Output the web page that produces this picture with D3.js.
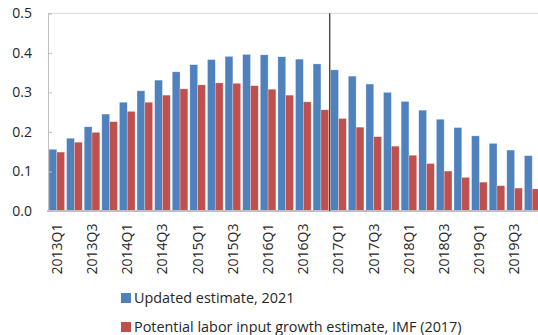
<!DOCTYPE html>
<html>
<head>
<meta charset="utf-8">
<script src="https://cdn.jsdelivr.net/npm/d3@7"></script>
<style>
  html, body { margin: 0; padding: 0; background: #fff; }
  svg { display: block; font-family: "Open Sans", "Noto Sans", sans-serif; }
</style>
</head>
<body>
<svg id="chart" width="538" height="335"></svg>
<script>
// Quarterly categories
const quarters = [
  "2013Q1","2013Q2","2013Q3","2013Q4",
  "2014Q1","2014Q2","2014Q3","2014Q4",
  "2015Q1","2015Q2","2015Q3","2015Q4",
  "2016Q1","2016Q2","2016Q3","2016Q4",
  "2017Q1","2017Q2","2017Q3","2017Q4",
  "2018Q1","2018Q2","2018Q3","2018Q4",
  "2019Q1","2019Q2","2019Q3","2019Q4"
];

// Updated estimate, 2021
const updatedEstimate = [
  0.156, 0.184, 0.213, 0.245, 0.275, 0.304, 0.331, 0.352,
  0.370, 0.383, 0.391, 0.396, 0.395, 0.390, 0.384, 0.372,
  0.357, 0.341, 0.321, 0.300, 0.277, 0.255, 0.232, 0.211,
  0.190, 0.171, 0.154, 0.140
];

// Potential labor input growth estimate, IMF (2017)
const imfEstimate = [
  0.149, 0.174, 0.199, 0.226, 0.252, 0.275, 0.293, 0.309,
  0.319, 0.324, 0.323, 0.317, 0.308, 0.293, 0.276, 0.256,
  0.234, 0.212, 0.188, 0.164, 0.141, 0.120, 0.101, 0.085,
  0.073, 0.064, 0.058, 0.056
];

const seriesNames = ["Updated estimate, 2021", "Potential labor input growth estimate, IMF (2017)"];
const seriesColors = ["#4F81BD", "#C0504D"];
const yTicks = [0.0, 0.1, 0.2, 0.3, 0.4, 0.5];
const xTickLabels = quarters.filter((q, i) => i % 2 === 0);
const splitQuarter = "2017Q1";

const svg = d3.select("#chart");
const margin = { left: 48, top: 13.3, bottom: 211 };
const plotRight = 541;

const x = d3.scaleBand().domain(quarters).range([margin.left, plotRight])
  .paddingInner(0.114).paddingOuter(0.057);
const keys = [0, 1];
const xSub = d3.scaleBand().domain(keys).range([0, x.bandwidth()]);
const y = d3.scaleLinear().domain([0, 0.5]).range([margin.bottom, margin.top]);

// top border line at 0.5
svg.append("line")
  .attr("x1", margin.left).attr("x2", 538)
  .attr("y1", y(0.5)).attr("y2", y(0.5))
  .attr("stroke", "#d9d9d9").attr("stroke-width", 1);

// bars
const rows = quarters.map((q, i) => ({ q, v: [updatedEstimate[i], imfEstimate[i]] }));
const groups = svg.append("g").selectAll("g").data(rows).join("g")
  .attr("transform", d => `translate(${x(d.q)},0)`);
groups.selectAll("rect").data(d => keys.map(k => ({ k, v: d.v[k] }))).join("rect")
  .attr("x", d => xSub(d.k))
  .attr("y", d => y(d.v))
  .attr("width", xSub.bandwidth())
  .attr("height", d => y(0) - y(d.v))
  .attr("fill", d => seriesColors[d.k])
  .attr("stroke", "rgba(255,255,255,0.45)")
  .attr("stroke-width", 0.6);

// y axis
const yAxis = d3.axisRight(y).tickValues(yTicks).tickSize(4).tickFormat("");
const yg = svg.append("g").attr("transform", `translate(${margin.left},0)`).call(yAxis);
yg.select(".domain").attr("stroke", "#bfbfbf").attr("stroke-width", 1);
yg.selectAll(".tick line").attr("stroke", "#bfbfbf");

svg.append("g").selectAll("text").data(yTicks).join("text")
  .attr("x", 32).attr("y", d => y(d))
  .attr("dy", "0.35em")
  .attr("text-anchor", "end")
  .attr("font-size", 14)
  .attr("fill", "#262626")
  .text(d => d3.format(".1f")(d));

// x axis
const xAxis = d3.axisBottom(x).tickValues(xTickLabels).tickSize(0);
const xg = svg.append("g").attr("transform", `translate(0,${margin.bottom})`).call(xAxis);
xg.select(".domain").remove();
xg.append("line").attr("x1", margin.left - 1).attr("x2", 538)
  .attr("y1", 0).attr("y2", 0)
  .attr("stroke", "#bfbfbf").attr("stroke-width", 2.2);
xg.selectAll(".tick text")
  .attr("font-family", "\"Open Sans\", \"Noto Sans\", sans-serif")
  .attr("font-size", 14)
  .attr("fill", "#262626")
  .attr("transform", "rotate(-90)")
  .attr("text-anchor", "end")
  .attr("x", -12.5)
  .attr("y", 0)
  .attr("dy", "0.35em");

// divider between 2016Q4 and 2017Q1
const splitX = x(splitQuarter) - x.step() * x.paddingInner() / 2;
svg.append("line")
  .attr("x1", splitX).attr("x2", splitX)
  .attr("y1", margin.top).attr("y2", margin.bottom)
  .attr("stroke", "#3a3a3a").attr("stroke-width", 1.3);

// legend
const legend = svg.append("g").selectAll("g").data(seriesNames).join("g")
  .attr("transform", (d, i) => `translate(121,${293 + i * 29})`);
legend.append("rect").attr("width", 10).attr("height", 10)
  .attr("fill", (d, i) => seriesColors[i]);
legend.append("text").attr("x", 13).attr("y", 5).attr("dy", "0.35em")
  .attr("font-size", 14.4).attr("fill", "#262626")
  .text(d => d);
</script>
</body>
</html>
